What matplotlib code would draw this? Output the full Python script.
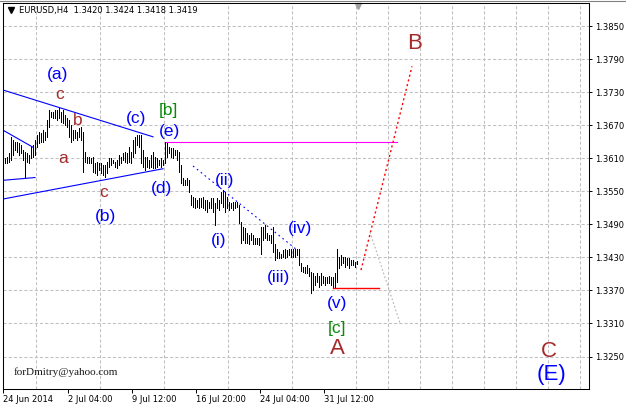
import numpy as np
import matplotlib.pyplot as plt
from matplotlib.lines import Line2D

# EURUSD H4 bars (high / low)
highs = [
    1.3610, 1.3612, 1.3619, 1.3648, 1.3643, 1.3639, 1.3639, 1.3637, 1.3634, 1.3625,
    1.3621, 1.3619, 1.3616, 1.3630, 1.3634, 1.3643, 1.3652, 1.3657, 1.3656, 1.3661,
    1.3657, 1.3679, 1.3697, 1.3694, 1.3694, 1.3697, 1.3697, 1.3701, 1.3694, 1.3697,
    1.3688, 1.3683, 1.3679, 1.3670, 1.3661, 1.3661, 1.3657, 1.3665, 1.3666, 1.3657,
    1.3621, 1.3612, 1.3612, 1.3610, 1.3612, 1.3601, 1.3603, 1.3601, 1.3601, 1.3597,
    1.3597, 1.3603, 1.3610, 1.3610, 1.3606, 1.3603, 1.3606, 1.3616, 1.3612, 1.3619,
    1.3621, 1.3619, 1.3630, 1.3621, 1.3643, 1.3648, 1.3652, 1.3652, 1.3652, 1.3625,
    1.3612, 1.3612, 1.3606, 1.3616, 1.3621, 1.3612, 1.3610, 1.3606, 1.3610, 1.3606,
    1.3639, 1.3637, 1.3630, 1.3628, 1.3628, 1.3625, 1.3625, 1.3621, 1.3597, 1.3574,
    1.3570, 1.3574, 1.3570, 1.3543, 1.3539, 1.3537, 1.3534, 1.3537, 1.3537, 1.3539,
    1.3534, 1.3534, 1.3530, 1.3537, 1.3537, 1.3528, 1.3537, 1.3534, 1.3548, 1.3552,
    1.3548, 1.3539, 1.3530, 1.3528, 1.3530, 1.3530, 1.3530, 1.3525, 1.3494, 1.3485,
    1.3483, 1.3474, 1.3470, 1.3474, 1.3470, 1.3465, 1.3465, 1.3465, 1.3485, 1.3485,
    1.3488, 1.3474, 1.3470, 1.3470, 1.3486, 1.3455, 1.3446, 1.3439, 1.3437, 1.3443,
    1.3446, 1.3443, 1.3446, 1.3446, 1.3446, 1.3446, 1.3446, 1.3446, 1.3419, 1.3412,
    1.3412, 1.3416, 1.3410, 1.3403, 1.3401, 1.3397, 1.3401, 1.3397, 1.3401, 1.3397,
    1.3394, 1.3394, 1.3397, 1.3394, 1.3394, 1.3401, 1.3446, 1.3430, 1.3434, 1.3430,
    1.3430, 1.3428, 1.3428, 1.3425, 1.3425, 1.3421, 1.3424,
]
lows = [
    1.3601, 1.3601, 1.3603, 1.3606, 1.3616, 1.3625, 1.3621, 1.3616, 1.3619, 1.3606,
    1.3574, 1.3603, 1.3601, 1.3610, 1.3612, 1.3616, 1.3630, 1.3637, 1.3639, 1.3639,
    1.3643, 1.3648, 1.3666, 1.3685, 1.3683, 1.3683, 1.3679, 1.3683, 1.3676, 1.3674,
    1.3670, 1.3666, 1.3648, 1.3639, 1.3643, 1.3646, 1.3643, 1.3648, 1.3643, 1.3585,
    1.3603, 1.3601, 1.3601, 1.3601, 1.3585, 1.3583, 1.3579, 1.3588, 1.3583, 1.3579,
    1.3576, 1.3583, 1.3594, 1.3597, 1.3601, 1.3594, 1.3592, 1.3597, 1.3601, 1.3606,
    1.3603, 1.3601, 1.3603, 1.3601, 1.3612, 1.3619, 1.3634, 1.3630, 1.3601, 1.3594,
    1.3588, 1.3594, 1.3592, 1.3594, 1.3592, 1.3592, 1.3594, 1.3597, 1.3594, 1.3597,
    1.3601, 1.3612, 1.3619, 1.3612, 1.3610, 1.3616, 1.3606, 1.3585, 1.3566, 1.3561,
    1.3561, 1.3561, 1.3548, 1.3525, 1.3521, 1.3519, 1.3521, 1.3519, 1.3521, 1.3519,
    1.3516, 1.3512, 1.3519, 1.3519, 1.3512, 1.3488, 1.3519, 1.3516, 1.3528, 1.3521,
    1.3512, 1.3519, 1.3516, 1.3519, 1.3516, 1.3519, 1.3521, 1.3492, 1.3457, 1.3461,
    1.3457, 1.3457, 1.3455, 1.3461, 1.3455, 1.3455, 1.3455, 1.3452, 1.3437, 1.3461,
    1.3466, 1.3461, 1.3461, 1.3457, 1.3439, 1.3425, 1.3428, 1.3428, 1.3428, 1.3430,
    1.3428, 1.3430, 1.3434, 1.3430, 1.3430, 1.3430, 1.3434, 1.3416, 1.3406, 1.3403,
    1.3401, 1.3401, 1.3397, 1.3366, 1.3370, 1.3379, 1.3385, 1.3376, 1.3379, 1.3383,
    1.3379, 1.3383, 1.3383, 1.3379, 1.3376, 1.3374, 1.3385, 1.3410, 1.3416, 1.3419,
    1.3412, 1.3416, 1.3410, 1.3416, 1.3416, 1.3412, 1.3418,
]

price_levels = [1.3250, 1.3310, 1.3370, 1.3430, 1.3490, 1.3550,
                1.3610, 1.3670, 1.3730, 1.3790, 1.3850]
date_labels = ["24 Jun 2014", "2 Jul 04:00", "9 Jul 12:00",
               "16 Jul 20:00", "24 Jul 04:00", "31 Jul 12:00"]
date_bars = [-1, 31.5, 63.5, 95.5, 127.5, 159.5]

# analysis lines (bar index, price)
tri_upper_x, tri_upper_y = [-1, 74], [1.3734, 1.3649]
tri_lower_x, tri_lower_y = [-1, 79], [1.3536, 1.3591]
small_upper_x, small_upper_y = [-1, 14], [1.3661, 1.3630]
small_lower_x, small_lower_y = [-1, 15], [1.3570, 1.3575]
channel_x, channel_y = [94, 146.5], [1.3596, 1.3442]
level_e_x, level_e_y = [80.5, 196], [1.3640, 1.3640]
level_v_x, level_v_y = [164, 187], [1.3374, 1.3374]
target_b_x, target_b_y = [178, 203.5], [1.3407, 1.3777]
alt_path_x, alt_path_y = [182.5, 197.5], [1.3476, 1.3311]

BLUE = "#0000ff"
BROWN = "#a52a2a"
GREEN = "#0a8a0a"

# wave labels: text, bar, price, colour, size
wave_labels = [
    ("(a)", 26.5, 1.3763, BLUE, 12.5),
    ("c", 27.5, 1.3725, BROWN, 12.5),
    ("b", 36.5, 1.3679, BROWN, 12.5),
    ("a", 29.0, 1.3610, BROWN, 12.5),
    ("(c)", 65.5, 1.3683, BLUE, 12.5),
    ("[b]", 81.5, 1.3697, GREEN, 12.5),
    ("(e)", 82.5, 1.3658, BLUE, 12.5),
    ("(d)", 78.0, 1.3556, BLUE, 12.5),
    ("c", 49.5, 1.3547, BROWN, 12.5),
    ("(b)", 50.0, 1.3505, BLUE, 12.5),
    ("(ii)", 110.0, 1.3569, BLUE, 12.5),
    ("(i)", 107.0, 1.3460, BLUE, 12.5),
    ("(iv)", 147.5, 1.3483, BLUE, 12.5),
    ("(iii)", 137.0, 1.3393, BLUE, 12.5),
    ("(v)", 166.0, 1.3347, BLUE, 12.5),
    ("[c]", 166.0, 1.3300, GREEN, 12.5),
    ("A", 166.0, 1.3264, BROWN, 16),
    ("B", 205.0, 1.3819, BROWN, 16),
    ("C", 272.0, 1.3260, BROWN, 16),
    ("(E)", 273.0, 1.3217, BLUE, 16),
]

fig = plt.figure(figsize=(6.26, 4.07), dpi=100)
fig.patch.set_facecolor("white")
ax = fig.add_axes([3 / 626, 18 / 407, 586 / 626, 386 / 407])
ax.set_xlim(-1, 292)
ax.set_ylim(1.3191, 1.3892)

# grid
grid_style = dict(color="#c0c0c0", linestyle=(0, (3, 2)), linewidth=0.75)
ax.set_xticks(np.arange(15.5, 292, 16), minor=True)
ax.grid(which="minor", axis="x", **grid_style)
ax.grid(which="major", axis="y", **grid_style)
ax.set_axisbelow(True)

# bars, 1 px wide
bars = np.arange(len(highs))
ax.vlines(bars, lows, highs, colors="black", linewidth=0.5, antialiased=False)

# wave structure lines
ax.plot(tri_upper_x, tri_upper_y, color=BLUE, lw=0.8)
ax.plot(tri_lower_x, tri_lower_y, color=BLUE, lw=0.8)
ax.plot(small_upper_x, small_upper_y, color=BLUE, lw=0.8)
ax.plot(small_lower_x, small_lower_y, color=BLUE, lw=0.8)
ax.plot(channel_x, channel_y, color=BLUE, lw=0.8, linestyle=(0, (1.5, 3)))
ax.plot(level_e_x, level_e_y, color="#ff00ff", lw=0.8)
ax.plot(level_v_x, level_v_y, color="red", lw=1.0)
ax.plot(target_b_x, target_b_y, color="red", lw=1.0, linestyle=(0, (1.5, 2)))
ax.plot(alt_path_x, alt_path_y, color="#b0b0b0", lw=0.8, linestyle=(0, (1.5, 2)))

for txt, bx, py, col, size in wave_labels:
    ax.text(bx, py, txt, color=col, fontsize=size, family="Liberation Sans",
            ha="center", va="center")

# header and signature
ax.plot([2.75], [1.38785], marker="v", color="black", markersize=4)
ax.text(7, 1.3879, "EURUSD,H4  1.3420 1.3424 1.3418 1.3419", fontsize=6,
        ha="left", va="center")
ax.plot([176.25], [1.3886], marker="v", color="#a0a0a0", markersize=5, clip_on=False)
ax.text(4.5, 1.3222, "forDmitry@yahoo.com", fontsize=8, family="Liberation Serif",
        color="#1a1a1a", ha="left", va="center")

# axes
ax.yaxis.tick_right()
ax.set_yticks(price_levels)
ax.set_yticklabels([f"{p:.4f}" for p in price_levels])
ax.set_xticks(date_bars)
ax.set_xticklabels(date_labels)
for lbl in ax.get_xticklabels():
    lbl.set_ha("left")
ax.tick_params(axis="y", which="major", direction="out", length=2.5, width=0.7,
               pad=2, labelsize=6)
ax.tick_params(axis="x", which="major", direction="out", length=3, width=0.7,
               pad=1.5, labelsize=6)
ax.tick_params(axis="x", which="minor", length=0)
for sp in ax.spines.values():
    sp.set_linewidth(0.75)
    sp.set_color("black")

fig.add_artist(Line2D([0, 1], [1 - 0.5 / 407] * 2, color="#808080", lw=0.8,
                      transform=fig.transFigure))

fig.savefig("out.png", dpi=100)
